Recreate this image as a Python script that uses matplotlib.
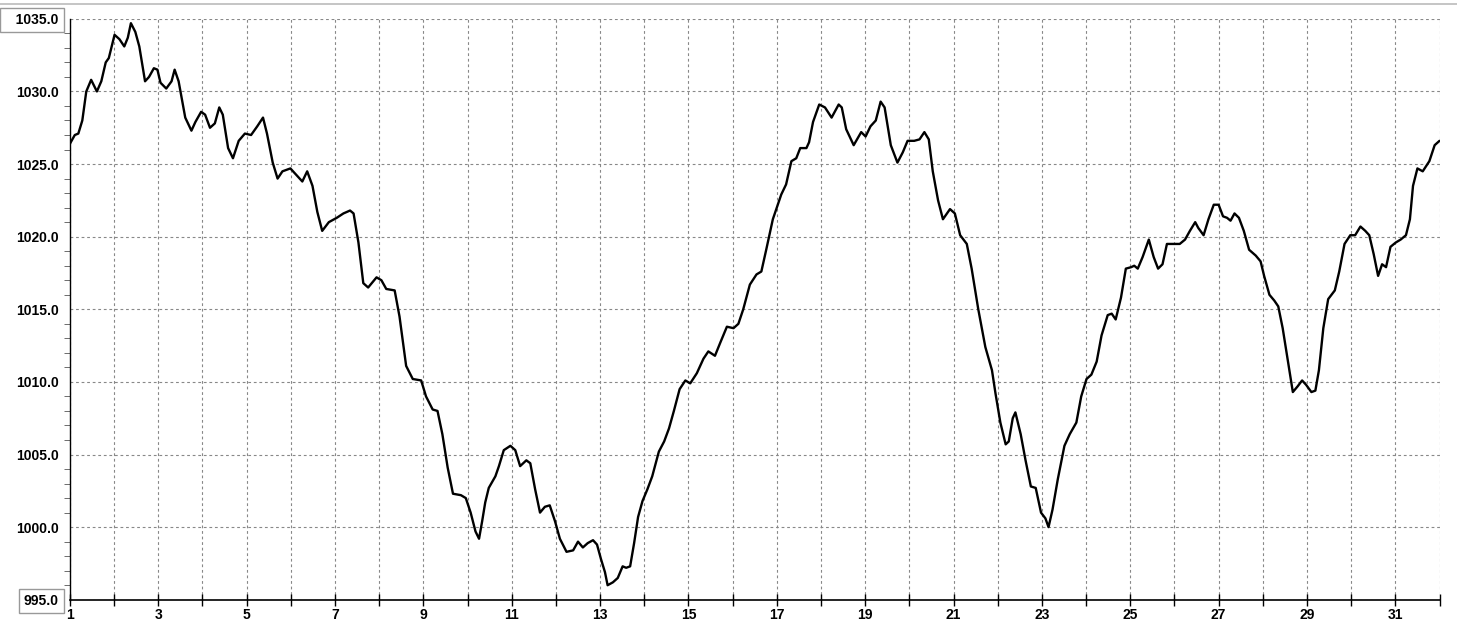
import matplotlib.pyplot as plt
from matplotlib.lines import Line2D

# day of month (fractional) and pressure
days = [1.00, 1.11, 1.19, 1.28, 1.37, 1.48, 1.61, 1.71, 1.81, 1.88, 2.01, 2.12, 2.23, 2.31, 2.38,
        2.48, 2.57, 2.70, 2.79, 2.90, 2.98, 3.05, 3.18, 3.30, 3.37, 3.46, 3.61, 3.75, 3.84, 3.97,
        4.06, 4.17, 4.28, 4.38, 4.46, 4.58, 4.69, 4.82, 4.96, 5.10, 5.24, 5.37, 5.46, 5.59, 5.70,
        5.81, 5.99, 6.11, 6.26, 6.37, 6.49, 6.60, 6.71, 6.86, 7.04, 7.19, 7.34, 7.42, 7.53, 7.64,
        7.75, 7.94, 8.05, 8.16, 8.35, 8.46, 8.61, 8.76, 8.95, 9.06, 9.21, 9.32, 9.43, 9.55, 9.67,
        9.85, 9.96, 10.07, 10.18, 10.26, 10.33, 10.40, 10.48, 10.63, 10.71, 10.82, 10.97, 11.08,
        11.19, 11.33, 11.42, 11.53, 11.64, 11.75, 11.86, 11.98, 12.09, 12.24, 12.39, 12.50, 12.61,
        12.72, 12.84, 12.93, 13.02, 13.11, 13.17, 13.29, 13.40, 13.51, 13.59, 13.68, 13.77, 13.86,
        13.96, 14.07, 14.18, 14.33, 14.45, 14.56, 14.67, 14.80, 14.93, 15.04, 15.19, 15.34, 15.45,
        15.60, 15.72, 15.87, 16.02, 16.13, 16.24, 16.39, 16.54, 16.65, 16.76, 16.91, 17.00, 17.10,
        17.21, 17.33, 17.44, 17.53, 17.67, 17.73, 17.82, 17.96, 18.09, 18.24, 18.40, 18.47, 18.57,
        18.74, 18.91, 19.01, 19.12, 19.24, 19.35, 19.44, 19.58, 19.73, 19.85, 19.96, 20.11, 20.23,
        20.34, 20.44, 20.53, 20.65, 20.76, 20.92, 21.03, 21.15, 21.30, 21.41, 21.56, 21.72, 21.87,
        21.95, 22.06, 22.18, 22.25, 22.34, 22.40, 22.52, 22.63, 22.75, 22.86, 22.98, 23.08, 23.15,
        23.24, 23.36, 23.51, 23.63, 23.78, 23.89, 24.01, 24.12, 24.24, 24.35, 24.49, 24.58, 24.67,
        24.79, 24.90, 25.02, 25.09, 25.17, 25.28, 25.42, 25.53, 25.63, 25.73, 25.83, 25.97, 26.12,
        26.24, 26.35, 26.47, 26.54, 26.66, 26.77, 26.89, 27.00, 27.10, 27.19, 27.27, 27.36, 27.46,
        27.57, 27.69, 27.84, 27.95, 28.03, 28.15, 28.26, 28.35, 28.45, 28.56, 28.68, 28.79, 28.89,
        28.98, 29.10, 29.19, 29.27, 29.37, 29.48, 29.63, 29.73, 29.85, 29.98, 30.09, 30.21, 30.32,
        30.41, 30.51, 30.61, 30.70, 30.79, 30.89, 31.01, 31.12, 31.24, 31.33, 31.40, 31.50, 31.62,
        31.77, 31.89, 32.00]
pressure = [1026.4, 1027.0, 1027.1, 1028.0, 1030.0, 1030.8, 1030.0, 1030.7, 1032.0, 1032.3, 1033.9,
            1033.6, 1033.1, 1033.7, 1034.7, 1034.1, 1033.1, 1030.7, 1031.0, 1031.6, 1031.5, 1030.6,
            1030.2, 1030.7, 1031.5, 1030.7, 1028.2, 1027.3, 1027.9, 1028.6, 1028.4, 1027.5, 1027.8,
            1028.9, 1028.4, 1026.1, 1025.4, 1026.6, 1027.1, 1027.0, 1027.6, 1028.2, 1027.1, 1025.1,
            1024.0, 1024.5, 1024.7, 1024.3, 1023.8, 1024.5, 1023.5, 1021.7, 1020.4, 1021.0, 1021.3,
            1021.6, 1021.8, 1021.6, 1019.6, 1016.8, 1016.5, 1017.2, 1017.0, 1016.4, 1016.3, 1014.5,
            1011.1, 1010.2, 1010.1, 1009.0, 1008.1, 1008.0, 1006.4, 1004.1, 1002.3, 1002.2, 1002.0,
            1001.0, 999.7, 999.2, 1000.4, 1001.7, 1002.7, 1003.5, 1004.2, 1005.3, 1005.6, 1005.3,
            1004.2, 1004.6, 1004.4, 1002.6, 1001.0, 1001.4, 1001.5, 1000.4, 999.2, 998.3, 998.4,
            999.0, 998.6, 998.9, 999.1, 998.8, 997.8, 996.9, 996.0, 996.2, 996.5, 997.3, 997.2,
            997.3, 998.9, 1000.7, 1001.8, 1002.6, 1003.5, 1005.2, 1005.9, 1006.8, 1008.0, 1009.5,
            1010.1, 1009.9, 1010.6, 1011.6, 1012.1, 1011.8, 1012.7, 1013.8, 1013.7, 1014.0, 1015.0,
            1016.7, 1017.4, 1017.6, 1019.1, 1021.2, 1022.0, 1022.9, 1023.6, 1025.2, 1025.4, 1026.1,
            1026.1, 1026.5, 1027.9, 1029.1, 1028.9, 1028.2, 1029.1, 1028.9, 1027.4, 1026.3, 1027.2,
            1026.9, 1027.6, 1028.0, 1029.3, 1028.9, 1026.3, 1025.1, 1025.8, 1026.6, 1026.6, 1026.7,
            1027.2, 1026.7, 1024.5, 1022.5, 1021.2, 1021.9, 1021.6, 1020.1, 1019.5, 1017.8, 1015.0,
            1012.4, 1010.8, 1009.2, 1007.2, 1005.7, 1005.9, 1007.5, 1007.9, 1006.4, 1004.6, 1002.8,
            1002.7, 1001.0, 1000.6, 1000.0, 1001.2, 1003.3, 1005.6, 1006.4, 1007.2, 1009.0, 1010.2,
            1010.5, 1011.4, 1013.2, 1014.6, 1014.7, 1014.3, 1015.8, 1017.8, 1017.9, 1018.0, 1017.8,
            1018.6, 1019.8, 1018.6, 1017.8, 1018.1, 1019.5, 1019.5, 1019.5, 1019.8, 1020.4, 1021.0,
            1020.6, 1020.1, 1021.2, 1022.2, 1022.2, 1021.4, 1021.3, 1021.1, 1021.6, 1021.3, 1020.4,
            1019.1, 1018.7, 1018.3, 1017.3, 1016.0, 1015.6, 1015.2, 1013.7, 1011.6, 1009.3, 1009.7,
            1010.1, 1009.8, 1009.3, 1009.4, 1010.8, 1013.7, 1015.7, 1016.3, 1017.6, 1019.5, 1020.1,
            1020.1, 1020.7, 1020.4, 1020.1, 1018.8, 1017.3, 1018.1, 1017.9, 1019.3, 1019.6, 1019.8,
            1020.1, 1021.2, 1023.5, 1024.7, 1024.5, 1025.2, 1026.3, 1026.6]

y_ticks = [995, 1000, 1005, 1010, 1015, 1020, 1025, 1030, 1035]
x_labels = [str(d) if d % 2 == 1 else "" for d in range(1, 33)]

plt.rcParams['font.family'] = ['Liberation Sans Narrow', 'Liberation Sans', 'DejaVu Sans']

fig = plt.figure(figsize=(14.57, 6.28), dpi=100)
ax = fig.add_axes([0.048, 0.045, 0.940, 0.925])

ax.plot(days, pressure, color='black', lw=1.7,
        solid_joinstyle='round', solid_capstyle='round')

ax.set_xlim(1, 32)
ax.set_ylim(995, 1035)
ax.set_xticks(range(1, 33))
ax.set_xticklabels(x_labels, fontsize=10, fontweight='bold')
ax.set_yticks(y_ticks)
ax.set_yticklabels([f"{v:.1f}" for v in y_ticks], fontsize=10, fontweight='bold')
ax.set_yticks(range(995, 1036), minor=True)

ax.grid(True, which='major', color='#888888', linestyle=(0, (2.5, 2.5)), lw=0.8)
ax.tick_params(axis='x', direction='inout', length=8, width=1, pad=2)
ax.tick_params(axis='y', which='major', length=0, pad=8)
ax.tick_params(axis='y', which='minor', direction='out', length=4, color='#555555')

for s in ['top', 'right']:
    ax.spines[s].set_visible(False)
ax.spines['left'].set_linewidth(1.0)
ax.spines['bottom'].set_linewidth(1.2)

labels = ax.get_yticklabels()
labels[0].set_bbox(dict(boxstyle='square,pad=0.35', fc='white', ec='#999999', lw=1))
labels[-1].set_text('   1035.0')
labels[-1].set_bbox(dict(boxstyle='square,pad=0.35', fc='white', ec='#999999', lw=1))
ax.set_yticklabels(labels)

fig.add_artist(Line2D([0, 1], [0.9936, 0.9936], color='#bbbbbb', lw=1.2, transform=fig.transFigure))

fig.savefig('out.png', dpi=100)
